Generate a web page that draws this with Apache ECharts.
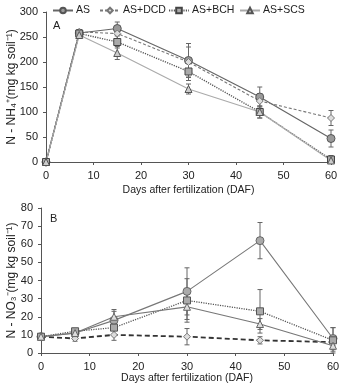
<!DOCTYPE html>
<html><head><meta charset="utf-8">
<script src="https://cdn.jsdelivr.net/npm/echarts@6/dist/echarts.min.js"></script>
<style>html,body{margin:0;padding:0;background:#fff}#c{width:339px;height:384px}</style>
</head><body><div id="c"></div>
<script>
const days = [0, 7, 15, 30, 45, 60];
const seriesNames = ['AS', 'AS+DCD', 'AS+BCH', 'AS+SCS'];
// Panel A: N-NH4+
const nh4_AS  = [0, 258, 267, 203, 130, 47];
const nh4_DCD = [0, 260, 257, 200, 122, 88];
const nh4_BCH = [0, 257, 240, 181, 100, 5];
const nh4_SCS = [0, 254, 218, 146, 100, 3];
const nh4Err_AS  = [0, 6, 13, 34, 20, 17];
const nh4Err_DCD = [0, 5, 10, 30, 15, 15];
const nh4Err_BCH = [0, 5, 12, 18, 12, 8];
const nh4Err_SCS = [0, 5, 13, 10, 12, 5];
// Panel B: N-NO3-
const no3_AS  = [9, 11, 18, 34, 62, 8];
const no3_DCD = [9, 8, 10, 9, 7, 6];
const no3_BCH = [9, 12, 14, 29, 23, 7];
const no3_SCS = [9, 11, 20, 25.5, 16, 4];
const no3Err_AS  = [0, 2, 5, 13, 10, 6];
const no3Err_DCD = [0, 1.5, 3, 4.5, 2, 2];
const no3Err_BCH = [0, 1.5, 4, 12, 12, 7];
const no3Err_SCS = [0, 1.5, 4, 7, 3, 3];
const xTicks = [0, 10, 20, 30, 40, 50, 60];

const styleA = [
  {line:'#666', type:'solid', width:1.2, sym:'circle', size:8, fill:'#9a9a9a', border:'#555'},
  {line:'#777', type:[3,2], width:1.1, sym:'diamond', size:7, fill:'#ddd', border:'#777'},
  {line:'#555', type:[1.2,1.2], width:1.4, sym:'rect', size:7, fill:'#aaa', border:'#444'},
  {line:'#aaa', type:'solid', width:1.1, sym:'triangle', size:7, fill:'#ccc', border:'#555'}
];
const styleB = [
  {line:'#777', type:'solid', width:1.1, sym:'circle', size:8, fill:'#aaa', border:'#666'},
  {line:'#333', type:[5,3], width:1.8, sym:'diamond', size:7, fill:'#ddd', border:'#777'},
  {line:'#555', type:[1.2,1.2], width:1.3, sym:'rect', size:7, fill:'#aaa', border:'#555'},
  {line:'#777', type:'solid', width:1.2, sym:'triangle', size:7, fill:'#ddd', border:'#666'}
];

const dataA = [nh4_AS, nh4_DCD, nh4_BCH, nh4_SCS];
const errA = [nh4Err_AS, nh4Err_DCD, nh4Err_BCH, nh4Err_SCS];
const dataB = [no3_AS, no3_DCD, no3_BCH, no3_SCS];
const errB = [no3Err_AS, no3Err_DCD, no3Err_BCH, no3Err_SCS];

function pairs(arr){ return days.map((d,i)=>[d, arr[i]]); }

function errSeries(vals, errs, grid, color){
  return {
    type:'custom', xAxisIndex:grid, yAxisIndex:grid, silent:true, z:1,
    data: days.map((d,i)=>[d, vals[i]-errs[i], vals[i]+errs[i]]).filter((p,i)=>errs[i]>0),
    renderItem:function(params, api){
      const lo = api.coord([api.value(0), api.value(1)]);
      const hi = api.coord([api.value(0), api.value(2)]);
      const w = 2.5;
      const st = {stroke: color, lineWidth: 1};
      return {type:'group', children:[
        {type:'line', shape:{x1:lo[0], y1:lo[1], x2:hi[0], y2:hi[1]}, style:st},
        {type:'line', shape:{x1:lo[0]-w, y1:lo[1], x2:lo[0]+w, y2:lo[1]}, style:st},
        {type:'line', shape:{x1:hi[0]-w, y1:hi[1], x2:hi[0]+w, y2:hi[1]}, style:st}
      ]};
    }
  };
}

const series = [];
seriesNames.forEach((n,k)=>{
  const s = styleA[k];
  series.push(errSeries(dataA[k], errA[k], 0, '#666'));
  series.push({name:n, type:'line', xAxisIndex:0, yAxisIndex:0, data:pairs(dataA[k]),
    symbol:s.sym, symbolSize:s.size, showAllSymbol:true, z:2,
    lineStyle:{color:s.line, type:s.type, width:s.width},
    itemStyle:{color:s.fill, borderColor:s.border, borderWidth:1}});
});
seriesNames.forEach((n,k)=>{
  const s = styleB[k];
  series.push(errSeries(dataB[k], errB[k], 1, '#666'));
  series.push({name:n+' ', type:'line', xAxisIndex:1, yAxisIndex:1, data:pairs(dataB[k]),
    symbol:s.sym, symbolSize:s.size, showAllSymbol:true, z:2,
    lineStyle:{color:s.line, type:s.type, width:s.width},
    itemStyle:{color:s.fill, borderColor:s.border, borderWidth:1}});
});

const font = 'Liberation Sans, Arial, sans-serif';
const axisCommon = {
  axisLine:{show:true, lineStyle:{color:'#555', width:1}},
  axisTick:{show:true, inside:false, length:3, lineStyle:{color:'#555'}},
  splitLine:{show:false},
  nameMoveOverlap:false,
  axisLabel:{color:'#222', fontSize:11, fontFamily:font}
};

const legendLefts = [52, 99, 168, 239];
const legends = seriesNames.map((n,k)=>({
  data:[n], top:5, left:legendLefts[k], itemWidth:20, itemHeight:7, padding:0,
  textStyle:{fontSize:10.5, color:'#222', fontFamily:font, padding:[0,0,0,-2]}
}));

const chart = echarts.init(document.getElementById('c'), null, {renderer:'canvas'});
chart.setOption({
  animation:false,
  textStyle:{fontFamily:font},
  legend:legends,
  grid:[
    {left:46, right:8, top:12, height:150, containLabel:false, outerBoundsMode:'none'},
    {left:41, right:6, top:208, height:145, containLabel:false, outerBoundsMode:'none'}
  ],
  xAxis:[
    Object.assign({}, axisCommon, {gridIndex:0, type:'value', min:0, max:60, interval:10,
      name:'Days after fertilization (DAF)', nameLocation:'middle', nameGap:23,
      nameTextStyle:{fontSize:10.5, color:'#222', fontFamily:font}}),
    Object.assign({}, axisCommon, {gridIndex:1, type:'value', min:0, max:60, interval:10,
      name:'Days after fertilization (DAF)', nameLocation:'middle', nameGap:20,
      nameTextStyle:{fontSize:10.5, color:'#222', fontFamily:font}})
  ],
  yAxis:[
    Object.assign({}, axisCommon, {gridIndex:0, type:'value', min:0, max:300, interval:50,
      name:'N - NH\u2084\u207A(mg kg soil\u207B\u00B9)', nameLocation:'middle', nameGap:28,
      nameTextStyle:{fontSize:12, color:'#222', fontFamily:font}}),
    Object.assign({}, axisCommon, {gridIndex:1, type:'value', min:0, max:80, interval:10,
      name:'N - NO\u2083\u207B(mg kg soil\u207B\u00B9)', nameLocation:'middle', nameGap:23,
      nameTextStyle:{fontSize:12, color:'#222', fontFamily:font}})
  ],
  graphic:[
    {type:'text', left:53, top:20, style:{text:'A', fontSize:11, fill:'#222', fontFamily:font}},
    {type:'text', left:50, top:213, style:{text:'B', fontSize:11, fill:'#222', fontFamily:font}}
  ],
  series:series
});
</script></body></html>
